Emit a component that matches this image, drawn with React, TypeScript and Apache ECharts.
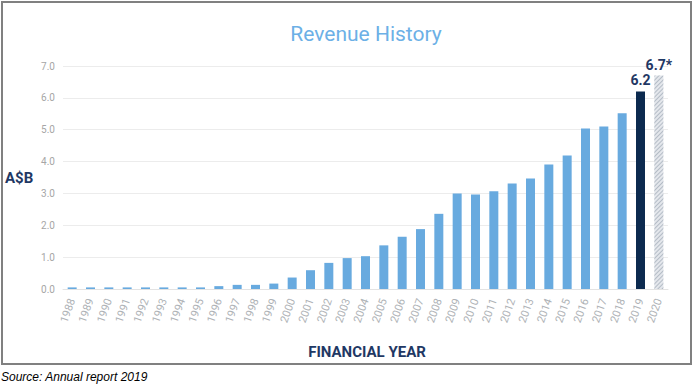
import { useEffect, useRef } from 'react';
import * as echarts from 'echarts';

const years = [
  '1988', '1989', '1990', '1991', '1992', '1993', '1994', '1995', '1996', '1997', '1998',
  '1999', '2000', '2001', '2002', '2003', '2004', '2005', '2006', '2007', '2008', '2009',
  '2010', '2011', '2012', '2013', '2014', '2015', '2016', '2017', '2018', '2019', '2020',
];
const revenue = [
  0.05, 0.05, 0.05, 0.05, 0.05, 0.05, 0.05, 0.05, 0.09, 0.13, 0.13,
  0.17, 0.36, 0.59, 0.82, 0.97, 1.03, 1.37, 1.64, 1.88, 2.36, 3.0,
  2.97, 3.07, 3.31, 3.47, 3.91, 4.19, 5.04, 5.1, 5.52, 6.2, 6.7,
];
const valueLabels: Record<string, string> = { '2019': '6.2', '2020': '6.7*' };
const actualYear = '2019';
const forecastYear = '2020';
const yMin = 0;
const yMax = 7;
const yInterval = 1;

export default function App() {
  const ref = useRef<HTMLDivElement>(null);
  useEffect(() => {
    if (!ref.current) return;
    const chart = echarts.init(ref.current, null, { renderer: 'svg' });
    const data = revenue.map((v, i) => {
      const y = years[i];
      const item: any = { value: v };
      if (y === actualYear) {
        item.itemStyle = { color: '#0c2a4f' };
      } else if (y === forecastYear) {
        item.itemStyle = {
          color: '#e4e7ec',
          decal: {
            symbol: 'rect',
            symbolSize: 1,
            dashArrayX: [1, 0],
            dashArrayY: [1, 1.5],
            rotation: -Math.PI / 4,
            color: '#b4bcc6',
          },
        };
      }
      if (valueLabels[y]) {
        item.label = {
          show: true,
          position: 'top',
          distance: 4,
          formatter: valueLabels[y],
          fontFamily: 'Roboto, Arial, sans-serif',
          fontWeight: 'bold',
          fontSize: 14,
          color: '#1f3864',
        };
      }
      return item;
    });
    chart.setOption({
      animation: false,
      grid: { left: 63, right: 27, top: 66, bottom: 98, containLabel: false },
      xAxis: {
        type: 'category',
        data: years,
        axisLine: { show: true, lineStyle: { color: '#e3e3e3', width: 1 } },
        axisTick: { show: false },
        axisLabel: {
          rotate: 70,
          margin: 10,
          interval: 0,
          color: '#aeb2b6',
          fontSize: 11,
          fontFamily: 'Roboto, Arial, sans-serif',
        },
      },
      yAxis: {
        type: 'value',
        min: yMin,
        max: yMax,
        interval: yInterval,
        axisLine: { show: false },
        axisTick: { show: false },
        splitLine: { lineStyle: { color: '#ececec', width: 1 } },
        axisLabel: {
          margin: 8,
          color: '#a6a6a6',
          fontSize: 10,
          fontFamily: 'Roboto, Arial, sans-serif',
          formatter: (v: number) => v.toFixed(1),
        },
      },
      series: [
        {
          type: 'bar',
          data,
          barWidth: 9,
          itemStyle: { color: '#68aadf' },
        },
      ],
      graphic: [
        {
          type: 'rect',
          shape: { x: 2, y: 2, width: 689, height: 362 },
          style: { fill: 'none', stroke: '#808080', lineWidth: 2 },
          silent: true,
        },
        {
          type: 'text',
          x: 366,
          y: 34,
          style: {
            text: 'Revenue History',
            fill: '#6cb0e6',
            fontSize: 21,
            fontFamily: 'Roboto, Arial, sans-serif',
            align: 'center',
            verticalAlign: 'middle',
          },
        },
        {
          type: 'text',
          x: 5,
          y: 178,
          style: {
            text: 'A$B',
            fill: '#1f3864',
            fontSize: 15,
            fontWeight: 'bold',
            fontFamily: 'Roboto, Arial, sans-serif',
            align: 'left',
            verticalAlign: 'middle',
          },
        },
        {
          type: 'text',
          x: 367,
          y: 352,
          style: {
            text: 'FINANCIAL YEAR',
            fill: '#1f3864',
            fontSize: 15,
            fontWeight: 'bold',
            fontFamily: 'Roboto, Arial, sans-serif',
            align: 'center',
            verticalAlign: 'middle',
          },
        },
        {
          type: 'text',
          x: 1,
          y: 377,
          style: {
            text: 'Source: Annual report 2019',
            fill: '#000000',
            fontSize: 12,
            fontStyle: 'italic',
            fontFamily: '"Liberation Sans", Arial, sans-serif',
            align: 'left',
            verticalAlign: 'middle',
          },
        },
      ],
    });
    return () => chart.dispose();
  }, []);
  return (
    <div
      ref={ref}
      style={{ position: 'absolute', left: 0, top: 0, width: 695, height: 387 }}
    />
  );
}
